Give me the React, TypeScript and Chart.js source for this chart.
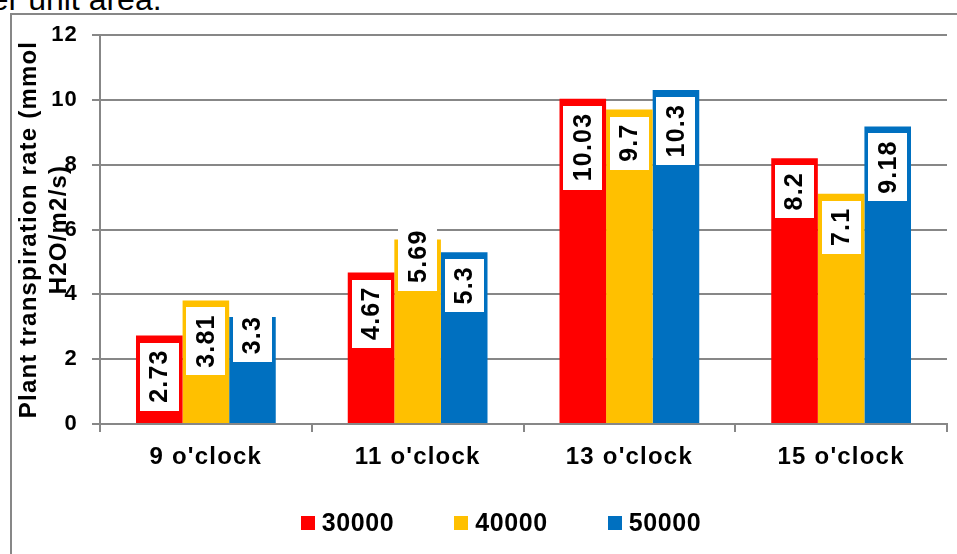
import React, { useEffect, useRef } from "react";
import { Chart, registerables } from "chart.js";

Chart.register(...registerables);

const categories = ["9 o'clock", "11 o'clock", "13 o'clock", "15 o'clock"];
const seriesNames = ["30000", "40000", "50000"];
const values30000 = [2.73, 4.67, 10.03, 8.2];
const values40000 = [3.81, 5.69, 9.7, 7.1];
const values50000 = [3.3, 5.3, 10.3, 9.18];
const seriesColors = ["#FF0000", "#FFC000", "#0070C0"];
const yTicks = [0, 2, 4, 6, 8, 10, 12];
const yTitle = ["Plant transpiration rate (mmol", "H2O/m2/s)"];

const FONT = "'Liberation Sans', Arial, Helvetica, sans-serif";
const GRID = "#878787";
const LETTER_SPACING = "1.2px";

// A couple of value boxes were dragged upward by hand (px, keyed "dataset:index")
const labelShift: Record<string, number> = { "1:1": -24, "2:0": -15 };

// Wider tracking for every text drawn on the canvas
const textTracking = {
  id: "textTracking",
  beforeDraw(chart: any) {
    (chart.ctx as any).letterSpacing = LETTER_SPACING;
  },
};

// White boxes with rotated values, placed inside the top of every bar
const valueBoxes = {
  id: "valueBoxes",
  afterDatasetsDraw(chart: any) {
    const ctx = chart.ctx as CanvasRenderingContext2D;
    ctx.save();
    (ctx as any).letterSpacing = LETTER_SPACING;
    ctx.font = `bold 25px ${FONT}`;
    chart.data.datasets.forEach((ds: any, di: number) => {
      const meta = chart.getDatasetMeta(di);
      meta.data.forEach((bar: any, i: number) => {
        const text = String(ds.data[i]);
        const tw = ctx.measureText(text).width;
        const boxW = 39;
        const boxH = tw + 15;
        const top = bar.y + 7 + (labelShift[`${di}:${i}`] || 0);
        const cx = bar.x;
        ctx.fillStyle = "#FFFFFF";
        ctx.fillRect(Math.round(cx - boxW / 2), Math.round(top), boxW, Math.round(boxH));
        ctx.save();
        ctx.translate(cx, top + boxH / 2);
        ctx.rotate(-Math.PI / 2);
        ctx.fillStyle = "#000000";
        ctx.textAlign = "center";
        ctx.textBaseline = "middle";
        ctx.fillText(text, 0.6, 1);
        ctx.restore();
      });
    });
    ctx.restore();
  },
};

// Single-row legend under the category labels: square swatch + bold series name
const bottomLegend = {
  id: "bottomLegend",
  afterDraw(chart: any) {
    const ctx = chart.ctx as CanvasRenderingContext2D;
    const centerX = 501;
    const centerY = 523;
    const swatch = 14;
    const textGap = 7;
    const itemGap = 60;
    ctx.save();
    (ctx as any).letterSpacing = "0.6px";
    ctx.font = `bold 25px ${FONT}`;
    ctx.textAlign = "left";
    ctx.textBaseline = "middle";
    const items = chart.data.datasets.map((ds: any) => ({
      text: String(ds.label),
      color: ds.backgroundColor as string,
      width: swatch + textGap + ctx.measureText(String(ds.label)).width,
    }));
    const total =
      items.reduce((s: number, it: any) => s + it.width, 0) + itemGap * (items.length - 1);
    let x = centerX - total / 2;
    items.forEach((it: any) => {
      ctx.fillStyle = it.color;
      ctx.fillRect(Math.round(x), centerY - swatch / 2, swatch, swatch);
      ctx.fillStyle = "#000000";
      ctx.fillText(it.text, x + swatch + textGap, centerY + 1);
      x += it.width + itemGap;
    });
    ctx.restore();
  },
};

export default function App() {
  const canvasRef = useRef<HTMLCanvasElement | null>(null);

  useEffect(() => {
    if (!canvasRef.current) return;
    const seriesValues = [values30000, values40000, values50000];
    const chart = new Chart(canvasRef.current, {
      type: "bar",
      data: {
        labels: categories,
        datasets: seriesNames.map((name, k) => ({
          label: name,
          data: seriesValues[k],
          backgroundColor: seriesColors[k],
          borderWidth: 0,
          categoryPercentage: 0.66,
          barPercentage: 1,
        })),
      },
      options: {
        responsive: false,
        animation: false,
        devicePixelRatio: 1,
        layout: { padding: { left: 0, right: 10, top: 35, bottom: 0 } },
        plugins: {
          legend: { display: false },
          tooltip: { enabled: false },
        },
        scales: {
          x: {
            grid: {
              offset: true,
              drawOnChartArea: false,
              drawTicks: true,
              tickLength: 8,
              color: GRID,
              lineWidth: 2,
            },
            border: { color: GRID, width: 2 },
            ticks: {
              color: "#000000",
              padding: 11,
              maxRotation: 0,
              font: { family: FONT, size: 24, weight: "bold" },
            },
            afterFit: (scale: any) => {
              scale.height = 130;
            },
          },
          y: {
            min: yTicks[0],
            max: yTicks[yTicks.length - 1],
            ticks: {
              stepSize: yTicks[1] - yTicks[0],
              color: "#000000",
              padding: 14,
              font: { family: FONT, size: 22, weight: "bold" },
            },
            grid: { color: GRID, lineWidth: 2, tickLength: 8 },
            border: { color: GRID, width: 2 },
            title: {
              display: true,
              text: yTitle,
              color: "#000000",
              font: { family: FONT, size: 24, weight: "bold", lineHeight: 1.25 },
              padding: { top: 14.5, bottom: 0 },
            },
            afterFit: (scale: any) => {
              scale.width = 100;
            },
          },
        },
      },
      plugins: [textTracking, valueBoxes, bottomLegend],
    });
    return () => chart.destroy();
  }, []);

  return (
    <div
      style={{
        position: "fixed",
        left: 0,
        top: 0,
        width: 957,
        height: 554,
        overflow: "hidden",
        background: "#FFFFFF",
      }}
    >
      <div
        style={{
          position: "absolute",
          left: -27,
          top: -17,
          fontFamily: FONT,
          fontSize: 32,
          lineHeight: "32px",
          whiteSpace: "nowrap",
          color: "#000000",
        }}
      >
        per unit area.
      </div>
      <div
        style={{
          position: "absolute",
          left: 10,
          top: 13,
          width: 1100,
          height: 700,
          border: `2px solid ${GRID}`,
          boxSizing: "border-box",
        }}
      />
      <canvas
        ref={canvasRef}
        width={957}
        height={554}
        style={{ position: "absolute", left: 0, top: 0 }}
      />
    </div>
  );
}
